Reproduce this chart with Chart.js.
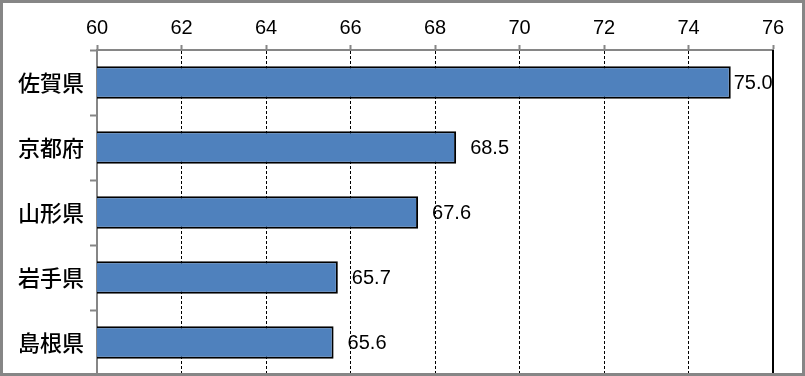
<!DOCTYPE html>
<html>
<head>
<meta charset="utf-8">
<script src="https://cdn.jsdelivr.net/npm/chart.js@4.4.0/dist/chart.umd.min.js"></script>
<style>
  body { margin: 0; background: #fff; }
  #wrap { width: 805px; height: 376px; position: relative; }
</style>
</head>
<body>
<div id="wrap"><canvas id="myChart"></canvas></div>
<script>
// Daten
const prefectures = ['佐賀県', '京都府', '山形県', '岩手県', '島根県'];
const values = [75.0, 68.5, 67.6, 65.7, 65.6];
const axisMin = 60;
const axisMax = 76;
const axisStep = 2;

// Werte neben den Balken + rechte Linie + Rahmen
const extras = {
  id: 'extras',
  afterDatasetsDraw(chart) {
    const ctx = chart.ctx;
    const area = chart.chartArea;
    const meta = chart.getDatasetMeta(0);
    ctx.save();
    ctx.font = '20px "Liberation Sans", Arial, sans-serif';
    ctx.fillStyle = '#000';
    ctx.textBaseline = 'middle';
    ctx.textAlign = 'left';
    meta.data.forEach((bar, i) => {
      let x = bar.x + 14;
      if (x > area.right - 40) x = bar.x + 3;
      ctx.fillText(values[i].toFixed(1), x, bar.y + 1);
    });
    // rechte Begrenzung bei 76
    ctx.strokeStyle = '#000';
    ctx.lineWidth = 2;
    ctx.beginPath();
    ctx.moveTo(area.right, area.top);
    ctx.lineTo(area.right, chart.height);
    ctx.stroke();
    // äusserer Rahmen
    ctx.strokeStyle = '#868686';
    ctx.lineWidth = 3;
    ctx.strokeRect(1.5, 1.5, chart.width - 3, chart.height - 3);
    ctx.restore();
  }
};

const config = {
  type: 'bar',
  data: {
    labels: prefectures,
    datasets: [{
      data: values,
      backgroundColor: '#4F81BD',
      borderColor: '#000',
      borderWidth: 2,
      borderSkipped: false,
      barPercentage: 0.5,
      categoryPercentage: 1.0
    }]
  },
  options: {
    indexAxis: 'y',
    responsive: true,
    maintainAspectRatio: false,
    animation: false,
    layout: { padding: { left: 0, top: 0, right: 32, bottom: 1 } },
    plugins: {
      legend: { display: false },
      tooltip: { enabled: false }
    },
    scales: {
      x: {
        position: 'top',
        min: axisMin,
        max: axisMax,
        afterFit: (scale) => { scale.height = 50; },
        ticks: {
          stepSize: axisStep,
          color: '#000',
          padding: 5,
          font: { family: '"Liberation Sans", Arial, sans-serif', size: 20 }
        },
        grid: {
          color: '#000',
          lineWidth: 1,
          tickLength: 5,
          tickColor: '#868686',
          tickWidth: 2,
          tickBorderDash: []
        },
        border: { display: true, color: '#868686', width: 2, dash: [3, 2] }
      },
      y: {
        afterFit: (scale) => {
          scale.width = 97;
          scale.paddingTop = 0;
          scale.paddingBottom = 0;
        },
        ticks: {
          color: '#000',
          padding: 6,
          font: { family: '"Noto Sans CJK JP", sans-serif', size: 22, weight: '500' }
        },
        grid: {
          drawOnChartArea: false,
          tickLength: 7,
          tickColor: '#868686',
          tickWidth: 2
        },
        border: { display: true, color: '#868686', width: 2 }
      }
    }
  },
  plugins: [extras]
};

const chart = new Chart(document.getElementById('myChart'), config);
</script>
</body>
</html>
